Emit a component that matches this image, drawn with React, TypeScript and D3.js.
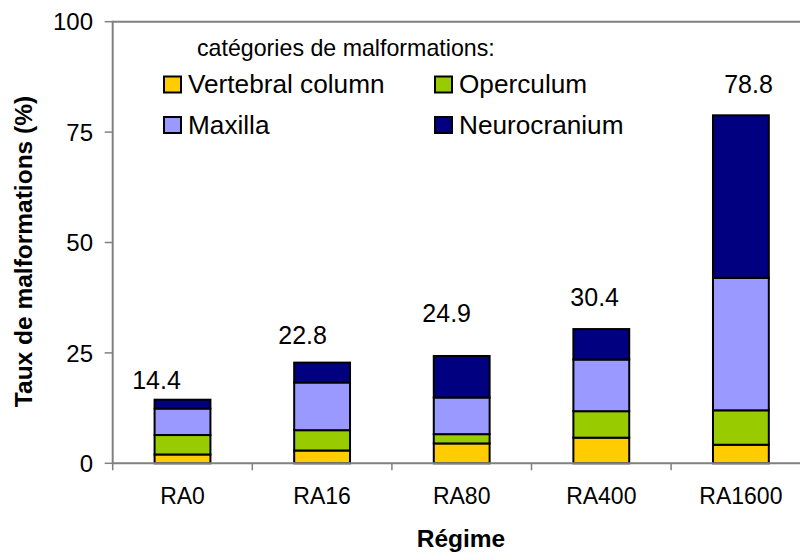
import React from "react";
import * as d3 from "d3";

const categories = ["RA0", "RA16", "RA80", "RA400", "RA1600"];
const seriesNames = ["Vertebral column", "Operculum", "Maxilla", "Neurocranium"];
const vertebral = [2.0, 2.9, 4.5, 5.8, 4.2];
const operculum = [4.4, 4.6, 2.1, 6.0, 7.8];
const maxilla = [6.0, 10.8, 8.3, 11.7, 30.0];
const neurocranium = [2.0, 4.5, 9.4, 6.9, 36.8];
const totalLabels = ["14.4", "22.8", "24.9", "30.4", "78.8"];
const yTicks = [0, 25, 50, 75, 100];
const colors = ["#FFCC00", "#99CC00", "#9999FF", "#000080"];

// layout (pixel offsets of the hand-placed total labels)
const labelDx = [-26, -19.5, -15, -6.6, 7.6];
const labelDy = [11, 19, 34, 23, 22];

const W = 800;
const H = 554;
const left = 112.7;
const right = 810.7;
const top = 21.7;
const bottom = 463.3;
const FONT = "Arial, 'Liberation Sans', Helvetica, sans-serif";

export default function App() {
  const x = d3.scaleBand<string>().domain(categories).range([left, right]).padding(0);
  const y = d3.scaleLinear().domain([0, 100]).range([bottom, top]);
  const series = [vertebral, operculum, maxilla, neurocranium];
  const rows = categories.map((c, i) => {
    const r: any = { cat: c };
    seriesNames.forEach((s, k) => (r[s] = series[k][i]));
    return r;
  });
  const stacked = d3.stack<any>().keys(seriesNames)(rows);
  const barW = x.bandwidth() * 0.4;
  const boundaries = categories.map((c) => x(c) as number).concat([right]);

  const legendItems = [
    { name: seriesNames[0], x: 164, y: 76.5, color: colors[0] },
    { name: seriesNames[1], x: 435, y: 76.5, color: colors[1] },
    { name: seriesNames[2], x: 164, y: 117, color: colors[2] },
    { name: seriesNames[3], x: 435, y: 117, color: colors[3] },
  ];

  return (
    <svg
      width={W}
      height={H}
      style={{ position: "absolute", left: 0, top: 0, background: "#fff" }}
      fontFamily={FONT}
    >
      <rect x={0} y={0} width={W} height={H} fill="#fff" />
      {/* plot frame */}
      <line x1={left} x2={W} y1={top} y2={top} stroke="#808080" strokeWidth={2} />
      {/* bars */}
      {stacked.map((layer, k) =>
        layer.map((d, i) => (
          <rect
            key={`${k}-${i}`}
            x={(x(categories[i]) as number) + x.bandwidth() / 2 - barW / 2}
            y={y(d[1])}
            width={barW}
            height={y(d[0]) - y(d[1])}
            fill={colors[k]}
            stroke="#000"
            strokeWidth={2}
          />
        ))
      )}
      {/* axes */}
      <line x1={left} x2={left} y1={top - 1} y2={bottom + 1} stroke="#808080" strokeWidth={2} />
      <line x1={left} x2={W} y1={bottom} y2={bottom} stroke="#808080" strokeWidth={2} />
      {yTicks.map((t) => (
        <g key={t}>
          <line x1={left - 8} x2={left} y1={y(t)} y2={y(t)} stroke="#808080" strokeWidth={1.5} />
          <text x={93} y={y(t)} dy="0.36em" textAnchor="end" fontSize={24} fill="#000">
            {t}
          </text>
        </g>
      ))}
      {boundaries.map((b, i) => (
        <line key={i} x1={b} x2={b} y1={bottom} y2={bottom + 7} stroke="#808080" strokeWidth={1.5} />
      ))}
      {categories.map((c) => (
        <text
          key={c}
          x={(x(c) as number) + x.bandwidth() / 2}
          y={504}
          textAnchor="middle"
          fontSize={23}
          fill="#000"
        >
          {c}
        </text>
      ))}
      {/* total labels */}
      {stacked[stacked.length - 1].map((d, i) => (
        <text
          key={i}
          x={(x(categories[i]) as number) + x.bandwidth() / 2 + labelDx[i]}
          y={y(d[1]) - labelDy[i]}
          textAnchor="middle"
          fontSize={25}
          fill="#000"
        >
          {totalLabels[i]}
        </text>
      ))}
      {/* axis titles */}
      <text
        transform={`translate(31.5,251.5) rotate(-90)`}
        textAnchor="middle"
        fontSize={24.5}
        fontWeight="bold"
        fill="#000"
      >
        Taux de malformations (%)
      </text>
      <text x={461} y={547} textAnchor="middle" fontSize={24.5} fontWeight="bold" fill="#000">
        Régime
      </text>
      {/* legend */}
      <text x={197} y={56} fontSize={23.2} fill="#000">
        catégories de malformations:
      </text>
      {legendItems.map((it) => (
        <g key={it.name}>
          <rect x={it.x} y={it.y} width={17} height={16} fill={it.color} stroke="#000" strokeWidth={2} />
          <text x={it.x + 24} y={it.y + 16.5} fontSize={26.2} fill="#000">
            {it.name}
          </text>
        </g>
      ))}
    </svg>
  );
}
